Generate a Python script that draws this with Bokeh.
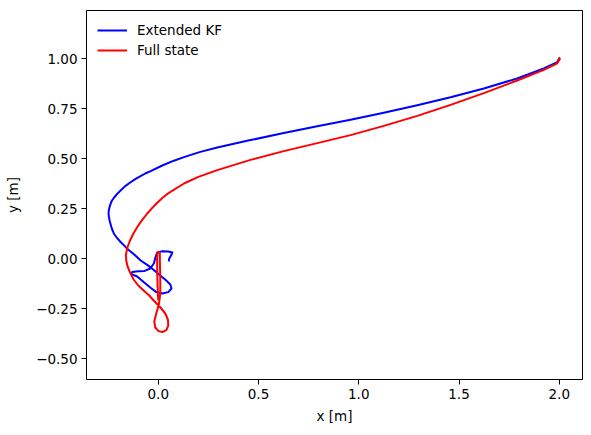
from bokeh.plotting import figure
from bokeh.models import Range1d, FixedTicker, Legend, LegendItem
from bokeh.embed import file_html
from bokeh.resources import INLINE

# Extended KF trajectory
ekf_x = [2.000, 1.990, 1.923, 1.790, 1.624, 1.458, 1.292, 1.125, 0.959, 0.793,
         0.626, 0.460, 0.294, 0.210, 0.128, 0.078, 0.020, -0.038, -0.065, -0.088,
         -0.113, -0.140, -0.165, -0.188, -0.205, -0.220, -0.231, -0.238, -0.243, -0.247,
         -0.248, -0.246, -0.242, -0.236, -0.230, -0.221, -0.207, -0.190, -0.172, -0.155,
         -0.120, -0.088, -0.055, -0.025, 0.010, 0.040, 0.060, 0.066, 0.050, 0.021,
         -0.010, -0.040, -0.073, -0.105, -0.135, -0.130, -0.100, -0.068, -0.040, -0.022,
         -0.013, -0.005, 0.020, 0.050, 0.070, 0.065, 0.055, 0.052]
ekf_y = [1.000, 0.982, 0.950, 0.900, 0.850, 0.806, 0.766, 0.729, 0.694, 0.661,
         0.627, 0.592, 0.555, 0.533, 0.507, 0.489, 0.465, 0.437, 0.425, 0.412,
         0.398, 0.380, 0.362, 0.340, 0.323, 0.305, 0.290, 0.273, 0.257, 0.240,
         0.224, 0.207, 0.186, 0.165, 0.145, 0.124, 0.104, 0.085, 0.067, 0.049,
         0.020, -0.010, -0.032, -0.055, -0.085, -0.110, -0.130, -0.150, -0.168, -0.175,
         -0.168, -0.145, -0.118, -0.090, -0.078, -0.068, -0.064, -0.062, -0.050, -0.025,
         0.010, 0.030, 0.036, 0.035, 0.030, 0.018, 0.000, -0.015]

# Full state trajectory
full_x = [1.998, 2.003, 1.990, 1.923, 1.790, 1.624, 1.458, 1.292, 1.125, 0.959,
          0.793, 0.626, 0.460, 0.294, 0.200, 0.128, 0.045, 0.020, -0.005, -0.030,
          -0.055, -0.080, -0.103, -0.124, -0.141, -0.154, -0.161, -0.160, -0.153, -0.140,
          -0.123, -0.100, -0.073, -0.045, -0.023, 0.011, 0.035, 0.048, 0.050, 0.040,
          0.020, 0.000, -0.015, -0.020, -0.010, 0.003, 0.010, 0.010, 0.008, 0.008,
          0.003, -0.004, -0.006, -0.005, -0.003, 0.000]
full_y = [1.006, 0.998, 0.976, 0.943, 0.890, 0.827, 0.768, 0.713, 0.663, 0.617,
          0.577, 0.537, 0.493, 0.442, 0.408, 0.375, 0.323, 0.302, 0.279, 0.253,
          0.225, 0.193, 0.160, 0.125, 0.090, 0.055, 0.020, -0.010, -0.040, -0.072,
          -0.105, -0.135, -0.160, -0.185, -0.210, -0.245, -0.275, -0.305, -0.335, -0.358,
          -0.368, -0.362, -0.345, -0.315, -0.275, -0.230, -0.175, -0.095, -0.010, 0.025,
          0.033, 0.028, 0.000, -0.080, -0.150, -0.210]

x_ticks = [0.0, 0.5, 1.0, 1.5, 2.0]
y_ticks = [-0.5, -0.25, 0.0, 0.25, 0.5, 0.75, 1.0]
series_names = ["Extended KF", "Full state"]
series_colors = ["blue", "red"]

FONT = "DejaVu Sans"

p = figure(width=591, height=435, output_backend="svg", toolbar_location=None,
           x_range=Range1d(-0.358, 2.116), y_range=Range1d(-0.605, 1.24))
p.min_border_left = 86
p.min_border_right = 9
p.min_border_top = 10
p.min_border_bottom = 56
p.outline_line_color = "black"
p.outline_line_width = 1
p.outline_line_alpha = 1
p.xgrid.visible = False
p.ygrid.visible = False

r1 = p.line(ekf_x, ekf_y, line_color=series_colors[0], line_width=2, line_join="round")
r2 = p.line(full_x, full_y, line_color=series_colors[1], line_width=2, line_join="round")

p.xaxis.ticker = FixedTicker(ticks=x_ticks)
p.yaxis.ticker = FixedTicker(ticks=y_ticks)
p.xaxis.major_label_overrides = {t: f"{t:.1f}".replace("-", "\u2212") for t in x_ticks}
p.yaxis.major_label_overrides = {t: f"{t:.2f}".replace("-", "\u2212") for t in y_ticks}

for ax in (p.xaxis[0], p.yaxis[0]):
    ax.axis_line_color = None
    ax.major_tick_in = 0
    ax.major_tick_out = 5
    ax.major_tick_line_color = "black"
    ax.minor_tick_line_color = None
    ax.major_label_text_font = FONT
    ax.major_label_text_font_size = "13.5px"
    ax.major_label_text_color = "black"
    ax.major_label_standoff = 4
    ax.axis_label_text_font = FONT
    ax.axis_label_text_font_size = "13.5px"
    ax.axis_label_text_font_style = "normal"
    ax.axis_label_text_color = "black"

p.xaxis.axis_label = "x [m]"
p.yaxis.axis_label = "y [m]"
p.xaxis.axis_label_standoff = 6
p.yaxis.axis_label_standoff = 12

legend = Legend(items=[LegendItem(label=series_names[0], renderers=[r1]),
                       LegendItem(label=series_names[1], renderers=[r2])],
                location="top_left")
legend.margin = 11
legend.padding = 0
legend.spacing = 2
legend.glyph_width = 30
legend.glyph_height = 18
legend.label_height = 18
legend.label_standoff = 10
legend.border_line_color = None
legend.background_fill_alpha = 0
legend.label_text_font = FONT
legend.label_text_font_size = "13.5px"
legend.label_text_color = "black"
p.add_layout(legend, "center")

open("out.html", "w").write(file_html(p, INLINE))
